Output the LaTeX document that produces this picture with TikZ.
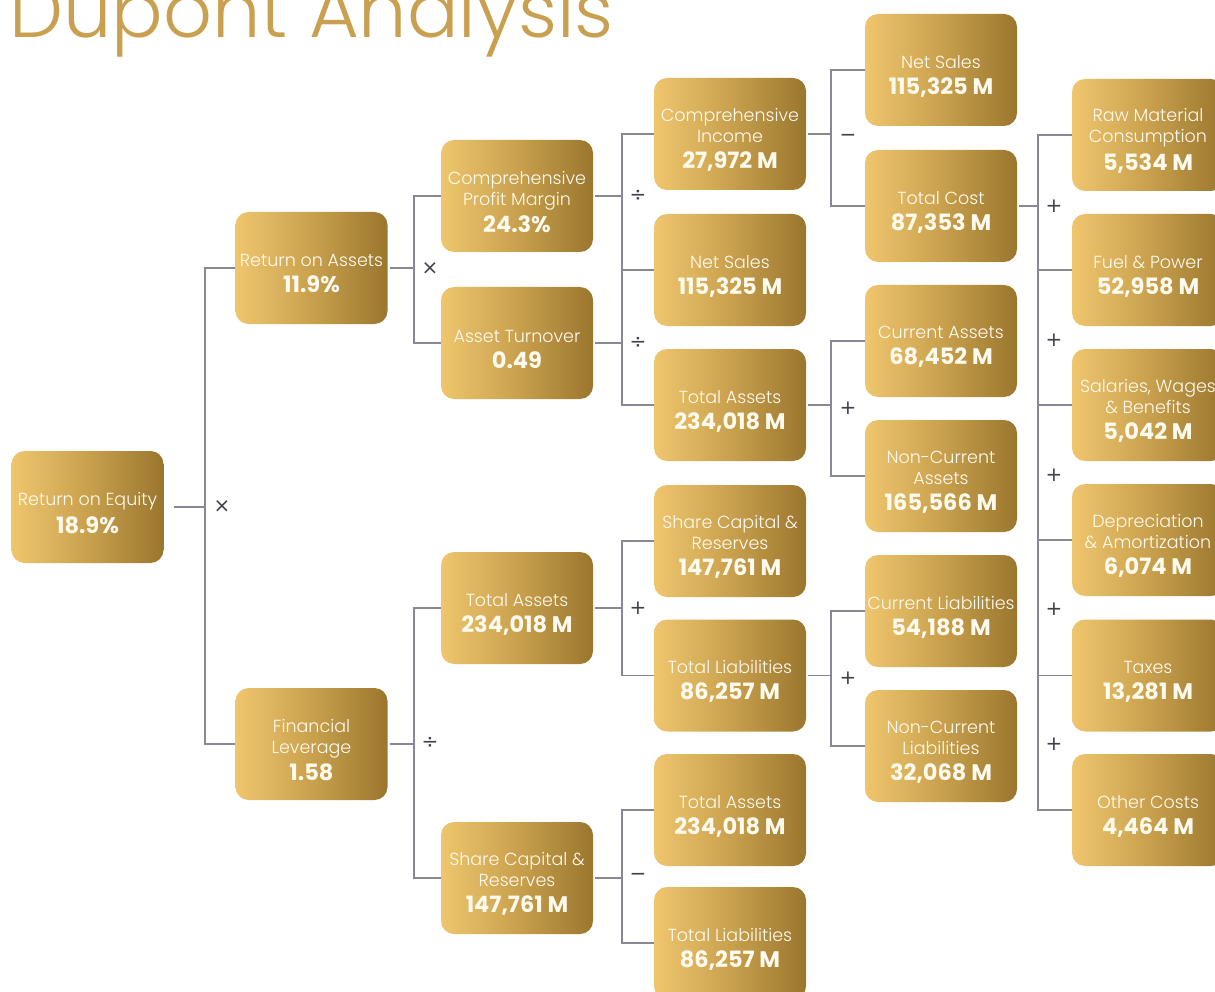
\documentclass[tikz,border=0pt]{standalone}
\usepackage{fontspec}
\setmainfont{Poppins}[UprightFont={* Light},BoldFont={* Bold}]
\newfontfamily\opfont{DejaVu Sans}
\definecolor{g1}{HTML}{EFC66E}
\definecolor{g2}{HTML}{C9A14E}
\definecolor{g3}{HTML}{9A762E}
\definecolor{titlec}{HTML}{C9A050}
\definecolor{linec}{HTML}{8A8794}
\definecolor{opc}{HTML}{404048}
\definecolor{txtc}{HTML}{FFFAEE}
\pgfdeclarehorizontalshading{goldsh}{100bp}{color(0bp)=(g1); color(25bp)=(g1); color(50bp)=(g2); color(75bp)=(g3); color(100bp)=(g3)}
\newcommand{\vf}{\fontsize{22.5}{25}\selectfont\bfseries}
\newcommand{\bx}[5]{%
  \node[box] (#1) at (#2,#3) {};
  \node[txt] (#1-t) at ([yshift=-6pt]#1.center) {#4\\[5pt]{\vf #5}};}
\begin{document}
\begin{tikzpicture}[x=1pt,y=-1pt,
  box/.style={rounded corners=13pt, minimum width=152pt, minimum height=112pt, shade, shading=goldsh, inner sep=0pt},
  txt/.style={text=txtc, align=center, inner sep=0pt, font=\fontsize{17.5}{21}\selectfont},
  conn/.style={draw=linec, line width=1.5pt},
  op/.style={text=opc, font=\opfont\fontsize{20}{20}\selectfont, inner sep=0pt}]
\useasboundingbox (0,0) rectangle (1215,992);
\clip (0,0) rectangle (1215,992);
\node[anchor=base west, text=titlec, font=\fontsize{76.5}{80}\selectfont, inner sep=0pt] (title) at (9,37.5) {Dupont Analysis};
% column 1
\bx{roe}{87.5}{507}{Return on Equity}{18.9\%}
% column 2
\bx{roa}{311.5}{268}{Return on Assets}{11.9\%}
\bx{fl}{311.5}{744}{Financial\\Leverage}{1.58}
% column 3
\bx{cpm}{517}{196}{Comprehensive\\Profit Margin}{24.3\%}
\bx{at}{517}{343}{Asset Turnover}{0.49}
\bx{ta3}{517}{608}{Total Assets}{234,018 M}
\bx{sc3}{517}{878}{Share Capital \&\\Reserves}{147,761 M}
% column 4
\bx{ci}{730}{134}{Comprehensive\\Income}{27,972 M}
\bx{ns4}{730}{270}{Net Sales}{115,325 M}
\bx{ta4}{730}{405}{Total Assets}{234,018 M}
\bx{sc4}{730}{541}{Share Capital \&\\Reserves}{147,761 M}
\bx{tl4}{730}{675.5}{Total Liabilities}{86,257 M}
\bx{ta4b}{730}{810}{Total Assets}{234,018 M}
\bx{tl4b}{730}{943}{Total Liabilities}{86,257 M}
% column 5
\bx{ns5}{941}{70}{Net Sales}{115,325 M}
\bx{tc}{941}{206}{Total Cost}{87,353 M}
\bx{ca}{941}{341}{Current Assets}{68,452 M}
\bx{nca}{941}{476}{Non-Current\\Assets}{165,566 M}
\bx{cl}{941}{611}{Current Liabilities}{54,188 M}
\bx{ncl}{941}{746}{Non-Current\\Liabilities}{32,068 M}
% column 6
\bx{rm}{1148}{135}{Raw Material\\Consumption}{5,534 M}
\bx{fp}{1148}{270}{Fuel \& Power}{52,958 M}
\bx{sw}{1148}{405}{Salaries, Wages\\\& Benefits}{5,042 M}
\bx{da}{1148}{540}{Depreciation\\\& Amortization}{6,074 M}
\bx{tx}{1148}{675.5}{Taxes}{13,281 M}
\bx{oc}{1148}{810}{Other Costs}{4,464 M}
% junctions
\coordinate (jroe) at (205,507);
\coordinate (jroa) at (414,268);
\coordinate (jfl) at (414,744);
\coordinate (jcpm) at (622,196);
\coordinate (jat) at (622,343);
\coordinate (jta3) at (622,608);
\coordinate (jsc3) at (622,878);
\coordinate (jci) at (831,134);
\coordinate (jta4) at (831,405);
\coordinate (jtl4) at (831,675.5);
\coordinate (jtc) at (1038,206);
% connectors
\draw[conn] ([xshift=10pt]roe.east) -- (jroe);
\draw[conn] (roa.west) -| (jroe) |- (fl.west);
\draw[conn] ([xshift=2pt]roa.east) -- (jroa);
\draw[conn] (cpm.west) -| (jroa) |- (at.west);
\draw[conn] ([xshift=2pt]fl.east) -- (jfl);
\draw[conn] (ta3.west) -| (jfl) |- (sc3.west);
\draw[conn] ([xshift=2pt]cpm.east) -- (jcpm);
\draw[conn] (ci.west) -| (jcpm) |- (ns4.west);
\draw[conn] ([xshift=2pt]at.east) -- (jat);
\draw[conn] (ns4.west) -| (jat) |- (ta4.west);
\draw[conn] ([xshift=2pt]ta3.east) -- (jta3);
\draw[conn] (sc4.west) -| (jta3) |- (tl4.west);
\draw[conn] ([xshift=2pt]sc3.east) -- (jsc3);
\draw[conn] (ta4b.west) -| (jsc3) |- (tl4b.west);
\draw[conn] ([xshift=2pt]ci.east) -- (jci);
\draw[conn] (ns5.west) -| (jci) |- (tc.west);
\draw[conn] ([xshift=2pt]ta4.east) -- (jta4);
\draw[conn] (ca.west) -| (jta4) |- (nca.west);
\draw[conn] ([xshift=2pt]tl4.east) -- (jtl4);
\draw[conn] (cl.west) -| (jtl4) |- (ncl.west);
\draw[conn] ([xshift=2pt]tc.east) -- (jtc);
\draw[conn] (rm.west) -| (jtc) |- (oc.west);
\draw[conn] (jtc |- fp.west) -- (fp.west);
\draw[conn] (jtc |- sw.west) -- (sw.west);
\draw[conn] (jtc |- da.west) -- (da.west);
\draw[conn] (jtc |- tx.west) -- (tx.west);
% operators
\node[op] (o1) at (222,507) {×};
\node[op] (o2) at (430,269) {×};
\node[op] (o3) at (430,743) {÷};
\node[op] (o4) at (638,196) {÷};
\node[op] (o5) at (638,343) {÷};
\node[op] (o6) at (638,608) {+};
\node[op] (o7) at (638,877) {−};
\node[op] (o8) at (848,138) {−};
\node[op] (o9) at (848,408) {+};
\node[op] (o10) at (848,678) {+};
\node[op] (o11) at (1054,206) {+};
\node[op] (o12) at (1054,340) {+};
\node[op] (o13) at (1054,475) {+};
\node[op] (o14) at (1054,609) {+};
\node[op] (o15) at (1054,744) {+};
\end{tikzpicture}
\end{document}
